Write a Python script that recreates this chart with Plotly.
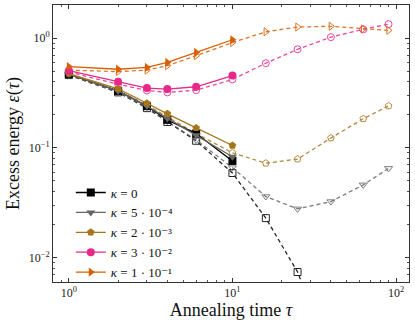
import plotly.graph_objects as go
import numpy as np

x_short = [1, 2, 3, 4, 6, 10]
x_long = [1, 2, 3, 4, 6, 10, 16, 25, 40, 63, 90]

labels = ["<i>κ</i> = 0", "<i>κ</i> = 5 · 10⁻⁴", "<i>κ</i> = 2 · 10⁻³",
          "<i>κ</i> = 3 · 10⁻²", "<i>κ</i> = 1 · 10⁻¹"]
colors = ["#000000", "#666666", "#a6761d", "#e7298a", "#d95f02"]
symbols = ["square", "triangle-down", "pentagon", "circle", "triangle-right"]

solid_k0 = [0.47, 0.33, 0.24, 0.18, 0.135, 0.076]
solid_k1 = [0.47, 0.33, 0.24, 0.185, 0.13, 0.083]
solid_k2 = [0.475, 0.345, 0.255, 0.204, 0.152, 0.105]
solid_k3 = [0.505, 0.40, 0.35, 0.343, 0.36, 0.455]
solid_k4 = [0.55, 0.52, 0.54, 0.60, 0.74, 0.965]

dash_k0 = [0.46, 0.32, 0.23, 0.172, 0.116, 0.059, 0.0229, 0.0074, 0.0013]
dash_k1 = [0.46, 0.32, 0.235, 0.175, 0.118, 0.066, 0.036, 0.0278, 0.0324, 0.046, 0.065]
dash_k2 = [0.465, 0.33, 0.245, 0.19, 0.135, 0.09, 0.0725, 0.079, 0.123, 0.184, 0.241]
dash_k3 = [0.49, 0.38, 0.333, 0.32, 0.335, 0.42, 0.59, 0.79, 1.02, 1.20, 1.34]
dash_k4 = [0.51, 0.495, 0.51, 0.56, 0.69, 0.91, 1.14, 1.26, 1.28, 1.21, 1.175]

solids = [solid_k0, solid_k1, solid_k2, solid_k3, solid_k4]
dashes = [dash_k0, dash_k1, dash_k2, dash_k3, dash_k4]

fig = go.Figure()
for i in range(5):
    d = dashes[i]
    fig.add_trace(go.Scatter(
        x=x_long[:len(d)], y=d, mode="lines+markers", showlegend=False,
        line=dict(color=colors[i], width=1.3, dash="4px,3px"),
        marker=dict(symbol=symbols[i] + "-open", size=7, color=colors[i], line=dict(width=1)),
        opacity=0.85, cliponaxis=True))
for i in range(5):
    fig.add_trace(go.Scatter(
        x=x_short, y=solids[i], mode="lines+markers", name=labels[i],
        line=dict(color=colors[i], width=1.3),
        marker=dict(symbol=symbols[i], size=8, color=colors[i], line=dict(width=0))))

font = "Liberation Serif, DejaVu Serif, serif"
minor_vals = [m * 10 ** e for e in range(-3, 3) for m in range(2, 10)]
axis_common = dict(type="log", showgrid=False, zeroline=False, showline=True,
                   linecolor="#333333", linewidth=1, mirror="ticks", ticks="inside",
                   ticklen=4, tickcolor="#333333",
                   minor=dict(ticks="inside", ticklen=2, tickcolor="#555555", tickvals=minor_vals, showgrid=False),
                   tickfont=dict(family=font, size=12, color="#222222"))

fig.update_layout(
    width=415, height=322, margin=dict(l=53, r=6, t=5, b=40),
    paper_bgcolor="white", plot_bgcolor="white",
    font=dict(family=font, color="#111111"),
    xaxis=dict(**axis_common, range=[np.log10(0.8), np.log10(120)],
               tickvals=[1, 10, 100], ticktext=["10<sup>0</sup>", "10<sup>1</sup>", "10<sup>2</sup>"],
               title=dict(text="Annealing time <i>τ</i>", font=dict(family=font, size=18), standoff=3)),
    yaxis=dict(**axis_common, range=[np.log10(0.006), np.log10(2.0)],
               tickvals=[0.01, 0.1, 1], ticktext=["10<sup>−2</sup>", "10<sup>−1</sup>", "10<sup>0</sup>"],
               title=dict(text="Excess energy <i>ε</i>(<i>τ</i>)", font=dict(family=font, size=18), standoff=4)),
    legend=dict(x=0.05, y=-0.02, xanchor="left", yanchor="bottom", bgcolor="rgba(0,0,0,0)",
                font=dict(family=font, size=13), tracegroupgap=0, itemwidth=30),
)

fig.write_html("out.html", config={"displayModeBar": False},
               post_script="document.body.style.margin='0';document.body.style.padding='0';")
